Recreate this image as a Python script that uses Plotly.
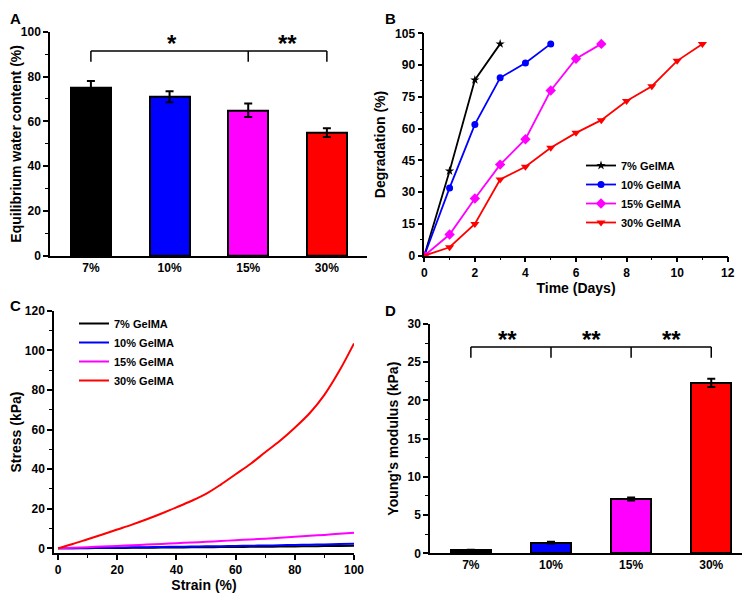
import plotly.graph_objects as go

# ---------- data ----------
conc = ["7%", "10%", "15%", "30%"]
colors = ["#000000", "#0000FF", "#FF00FF", "#FF0000"]

# A: equilibrium water content
ewc_mean = [75, 71, 65, 55]
ewc_err = [3, 2.5, 3, 2]

# B: degradation
days_7 = [0, 1, 2, 3]
deg_7 = [0, 40, 83, 100]
days_10 = [0, 1, 2, 3, 4, 5]
deg_10 = [0, 32, 62, 84, 91, 100]
days_15 = [0, 1, 2, 3, 4, 5, 6, 7]
deg_15 = [0, 10, 27, 43, 55, 78, 93, 100]
days_30 = [0, 1, 2, 3, 4, 5, 6, 7, 8, 9, 10, 11]
deg_30 = [0, 4, 15, 36, 42, 51, 58, 64, 73, 80, 92, 100]

# C: stress-strain
strain = [0, 5, 10, 15, 20, 25, 30, 35, 40, 45, 50, 55, 60, 65, 70, 75, 80, 85, 90, 95, 100]
stress_7 = [0, 0.05, 0.1, 0.15, 0.2, 0.26, 0.32, 0.38, 0.44, 0.5, 0.56, 0.62, 0.68, 0.75, 0.82, 0.9, 0.98, 1.06, 1.14, 1.22, 1.3]
stress_10 = [0, 0.1, 0.2, 0.3, 0.4, 0.5, 0.6, 0.7, 0.8, 0.9, 1.0, 1.1, 1.2, 1.32, 1.44, 1.56, 1.7, 1.84, 1.98, 2.14, 2.3]
stress_15 = [0, 0.3, 0.6, 0.9, 1.2, 1.55, 1.9, 2.25, 2.6, 2.95, 3.3, 3.7, 4.1, 4.5, 4.9, 5.35, 5.8, 6.3, 6.8, 7.35, 7.9]
stress_30 = [0, 2.2, 4.6, 7.0, 9.5, 12.0, 14.7, 17.6, 20.7, 23.9, 27.5, 32.2, 37.4, 42.6, 48.5, 54.3, 60.9, 68.2, 77.5, 89.5, 103.5]

# D: Young's modulus
ym_mean = [0.4, 1.4, 7.1, 22.3]
ym_err = [0.05, 0.12, 0.2, 0.55]

labels_B = ["7% GelMA", "10% GelMA", "15% GelMA", "30% GelMA"]
symbols_B = ["star", "circle", "diamond", "triangle-down"]
sizes_B = [7, 7, 8, 8]

# significance brackets
sig_A = {"bar_y": 91.4, "drop_y": 86.6, "ends": ["7%", "15%", "30%"], "stars": ["*", "**"], "star_x": [1.03, 2.5]}
sig_D = {"bar_y": 27.0, "drop_y": 25.6, "ends": ["7%", "10%", "15%", "30%"], "stars": ["**", "**", "**"], "star_x": [0.46, 1.5, 2.5]}

FONT = "Arial, Liberation Sans, sans-serif"
OFF = 8  # page body margin
W, H = 755 - OFF, 598 - OFF

def px_x(p):
    return (p - OFF) / W

def px_y(p):
    return 1 - (p - OFF) / H

fig = go.Figure()

# ---- A ----
fig.add_trace(go.Bar(
    x=conc, y=ewc_mean, width=0.51,
    marker=dict(color=colors, line=dict(color="black", width=2)),
    error_y=dict(type="data", array=ewc_err, color="black", thickness=2, width=4),
    xaxis="x", yaxis="y", showlegend=False))

# ---- B ----
for xs, ys, lab, col, sym, sz in zip([days_7, days_10, days_15, days_30],
                                     [deg_7, deg_10, deg_15, deg_30],
                                     labels_B, colors, symbols_B, sizes_B):
    fig.add_trace(go.Scatter(
        x=xs, y=ys, mode="lines+markers", name=lab,
        line=dict(color=col, width=1.8),
        marker=dict(symbol=sym, size=sz, color=col),
        xaxis="x2", yaxis="y2", legend="legend"))

# ---- C ----
for ys, lab, col in zip([stress_7, stress_10, stress_15, stress_30], labels_B, colors):
    fig.add_trace(go.Scatter(
        x=strain, y=ys, mode="lines", name=lab, line_shape="spline",
        line=dict(color=col, width=2),
        xaxis="x3", yaxis="y3", legend="legend2"))

# ---- D ----
fig.add_trace(go.Bar(
    x=conc, y=ym_mean, width=0.5,
    marker=dict(color=colors, line=dict(color="black", width=2)),
    error_y=dict(type="data", array=ym_err, color="black", thickness=2, width=4),
    xaxis="x4", yaxis="y4", showlegend=False))

tickfont = dict(family=FONT, size=12, color="black", weight="bold")
titlefont = dict(family=FONT, size=14, color="black", weight="bold")

def ax(domain, **kw):
    d = dict(domain=domain, showline=True, linecolor="black", linewidth=1.5,
             ticks="outside", ticklen=5, tickwidth=1.5, tickcolor="black",
             tickfont=tickfont, showgrid=False, zeroline=False, mirror=False,
             automargin=False)
    d.update(kw)
    return d

minor = dict(ticks="outside", ticklen=3, tickwidth=1.2, tickcolor="black", showgrid=False)

fig.update_layout(
    width=W, height=H, margin=dict(l=0, r=0, t=0, b=0, autoexpand=False),
    paper_bgcolor="white", plot_bgcolor="white",
    font=dict(family=FONT, color="black"),
    bargap=0,
    # A
    xaxis=ax([px_x(50), px_x(367)], anchor="y", type="category", range=[-0.52, 3.51], ticks=""),
    yaxis=ax([px_y(256), px_y(31.7)], anchor="x", range=[0, 100], dtick=20,
             minor=dict(dtick=10, **minor),
             title=dict(text="Equilibrium water content (%)", font=titlefont, standoff=6)),
    # B
    xaxis2=ax([px_x(424.3), px_x(727.7)], anchor="y2", range=[0, 12], dtick=2,
              minor=dict(dtick=1, **minor),
              title=dict(text="Time (Days)", font=titlefont, standoff=4)),
    yaxis2=ax([px_y(255.7), px_y(33.3)], anchor="x2", range=[0, 105], dtick=15,
              minor=dict(dtick=7.5, **minor),
              title=dict(text="Degradation (%)", font=titlefont, standoff=6)),
    # C
    xaxis3=ax([px_x(54), px_x(354)], anchor="y3", range=[-1.35, 100], dtick=20,
              minor=dict(dtick=10, **minor),
              title=dict(text="Strain (%)", font=titlefont, standoff=4)),
    yaxis3=ax([px_y(553.3), px_y(310.7)], anchor="x3", range=[-2.5, 120], dtick=20,
              minor=dict(dtick=10, **minor),
              title=dict(text="Stress (kPa)", font=titlefont, standoff=6)),
    # D
    xaxis4=ax([px_x(430), px_x(741.7)], anchor="y4", type="category", range=[-0.51, 3.38], ticks=""),
    yaxis4=ax([px_y(553.3), px_y(324)], anchor="x4", range=[0, 30], dtick=5,
              minor=dict(dtick=2.5, **minor),
              title=dict(text="Young's modulus (kPa)", font=titlefont, standoff=6)),
    legend=dict(x=px_x(581), y=px_y(151), xanchor="left", yanchor="top",
                bgcolor="rgba(0,0,0,0)", font=dict(family=FONT, size=11, color="black", weight="bold"),
                itemwidth=30, tracegroupgap=0),
    legend2=dict(x=px_x(74), y=px_y(309), xanchor="left", yanchor="top",
                 bgcolor="rgba(0,0,0,0)", font=dict(family=FONT, size=11, color="black", weight="bold"),
                 itemwidth=30, tracegroupgap=0),
)

# brackets
def bracket(sig, xr, yr):
    ends = sig["ends"]
    fig.add_shape(type="line", xref=xr, yref=yr, x0=ends[0], x1=ends[-1],
                  y0=sig["bar_y"], y1=sig["bar_y"], line=dict(color="black", width=1.5))
    for e in ends:
        fig.add_shape(type="line", xref=xr, yref=yr, x0=e, x1=e,
                      y0=sig["drop_y"], y1=sig["bar_y"], line=dict(color="black", width=1.5))
    for s, sx in zip(sig["stars"], sig["star_x"]):
        fig.add_annotation(x=sx, y=sig["bar_y"], xref=xr, yref=yr, text=s, showarrow=False,
                           yanchor="bottom", yshift=-8,
                           font=dict(family=FONT, size=24, color="black", weight="bold"))

bracket(sig_A, "x", "y")
bracket(sig_D, "x4", "y4")

# panel letters
for letter, lx, ly in [("A", 8, 8), ("B", 383, 8), ("C", 8, 295), ("D", 383, 300)]:
    fig.add_annotation(x=px_x(lx), y=px_y(ly), xref="paper", yref="paper", text=letter,
                       showarrow=False, xanchor="left", yanchor="top",
                       font=dict(family=FONT, size=15, color="black", weight="bold"))

fig.write_html("out.html")
